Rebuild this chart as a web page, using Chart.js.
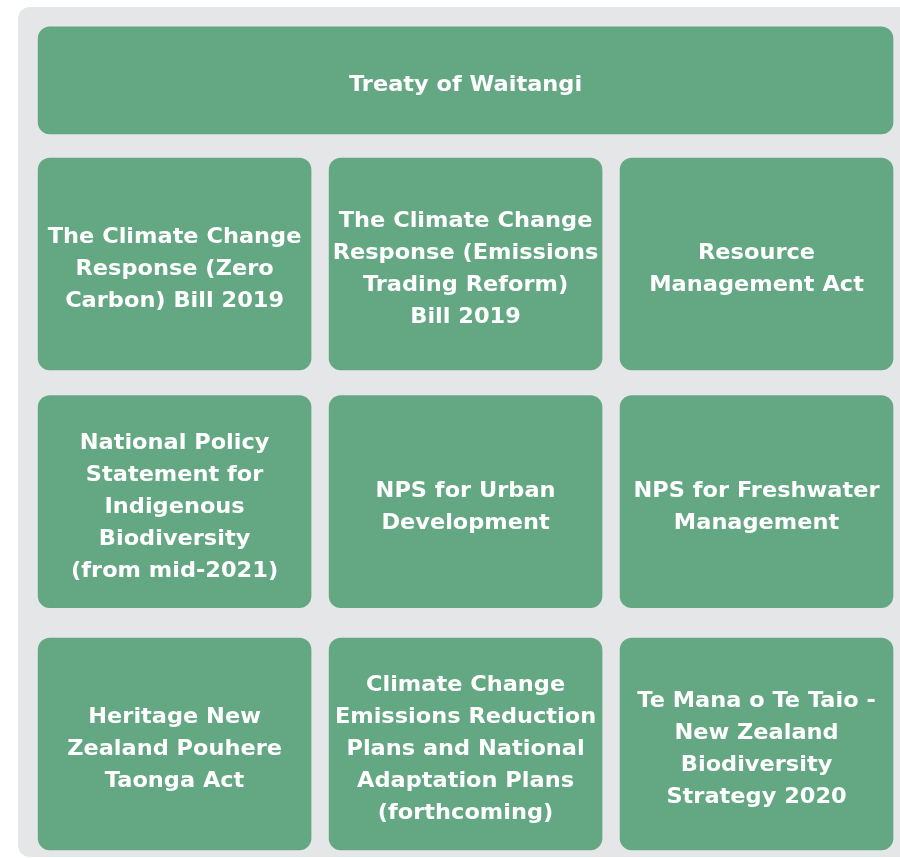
<!DOCTYPE html>
<html>
<head>
<meta charset="utf-8">
<script src="https://cdn.jsdelivr.net/npm/chart.js@4"></script>
<style>
  html, body { margin: 0; padding: 0; background: #ffffff; }
  #wrap { position: relative; width: 900px; height: 858px; overflow: hidden; }
  #panel { position: absolute; left: 18px; top: 7px; width: 920px; height: 850px;
           background: #e5e6e8; border-radius: 12px; }
  #chart { position: absolute; left: 0; top: 0; }
</style>
</head>
<body>
<div id="wrap">
  <div id="panel"></div>
  <canvas id="chart" width="900" height="858"></canvas>
</div>
<script>
// Box texts, one array of lines per box
const boxLines = [
    ['Treaty of Waitangi'],
    ['The Climate Change', 'Response (Zero', 'Carbon) Bill 2019'],
    ['The Climate Change', 'Response (Emissions', 'Trading Reform)', 'Bill 2019'],
    ['Resource', 'Management Act'],
    ['National Policy', 'Statement for', 'Indigenous', 'Biodiversity', '(from mid-2021)'],
    ['NPS for Urban', 'Development'],
    ['NPS for Freshwater', 'Management'],
    ['Heritage New', 'Zealand Pouhere', 'Taonga Act'],
    ['Climate Change', 'Emissions Reduction', 'Plans and National', 'Adaptation Plans', '(forthcoming)'],
    ['Te Mana o Te Taio -', 'New Zealand', 'Biodiversity', 'Strategy 2020']
];
// Grid placement of each box
const boxRow  = [0, 1, 1, 1, 2, 2, 2, 3, 3, 3];
const boxCol  = [0, 0, 1, 2, 0, 1, 2, 0, 1, 2];
const boxSpan = [3, 1, 1, 1, 1, 1, 1, 1, 1, 1];

// layout constants (scale units)
const ROW_CENTER = [0.235, 1, 1.99, 3];
const GAP = 0.031;
const GREEN = '#64a883';

function pointsFor(rowFilter) {
    const idx = [];
    boxRow.forEach((r, i) => { if (rowFilter(r)) idx.push(i); });
    return {
        idx,
        data: idx.map(i => ({
            x: [boxCol[i] + GAP, boxCol[i] + boxSpan[i] - GAP],
            y: ROW_CENTER[boxRow[i]]
        }))
    };
}

const headerBoxes = pointsFor(r => r === 0);
const gridBoxes = pointsFor(r => r > 0);

// Draws the wrapped labels in the middle of each box
const boxText = {
    id: 'boxText',
    afterDatasetsDraw(chart) {
        const ctx = chart.ctx;
        ctx.save();
        ctx.fillStyle = '#ffffff';
        ctx.font = 'bold 21.5px "DejaVu Sans", sans-serif';
        ctx.textAlign = 'center';
        ctx.textBaseline = 'alphabetic';
        chart.data.datasets.forEach((ds, d) => {
            chart.getDatasetMeta(d).data.forEach((el, j) => {
                const lines = boxLines[ds.boxIdx[j]];
                const cx = (el.x + el.base) / 2;
                const cy = el.y + 3;
                lines.forEach((line, k) => {
                    const y = cy + 8 + (k - (lines.length - 1) / 2) * 32;
                    // the source lettering is a touch wider than DejaVu
                    ctx.save();
                    ctx.translate(cx, y);
                    ctx.scale(1.045, 1);
                    ctx.fillText(line, 0, 0);
                    ctx.restore();
                });
            });
        });
        ctx.restore();
    }
};

const barStyle = {
    backgroundColor: GREEN,
    hoverBackgroundColor: GREEN,
    borderWidth: 0,
    borderRadius: 12,
    borderSkipped: false,
    grouped: false
};

new Chart(document.getElementById('chart').getContext('2d'), {
    type: 'bar',
    data: {
        datasets: [
            { ...barStyle, data: headerBoxes.data, boxIdx: headerBoxes.idx, barThickness: 107 },
            { ...barStyle, data: gridBoxes.data, boxIdx: gridBoxes.idx, barThickness: 212 }
        ]
    },
    options: {
        indexAxis: 'y',
        responsive: false,
        animation: false,
        devicePixelRatio: 1,
        layout: { padding: 0 },
        plugins: {
            legend: { display: false },
            tooltip: { enabled: false },
            colors: { enabled: false }
        },
        scales: {
            x: { type: 'linear', min: -0.1, max: 2.993, display: false },
            y: { type: 'linear', min: -0.1, max: 3.475, reverse: true, display: false, offset: false }
        }
    },
    plugins: [boxText]
});
</script>
</body>
</html>
